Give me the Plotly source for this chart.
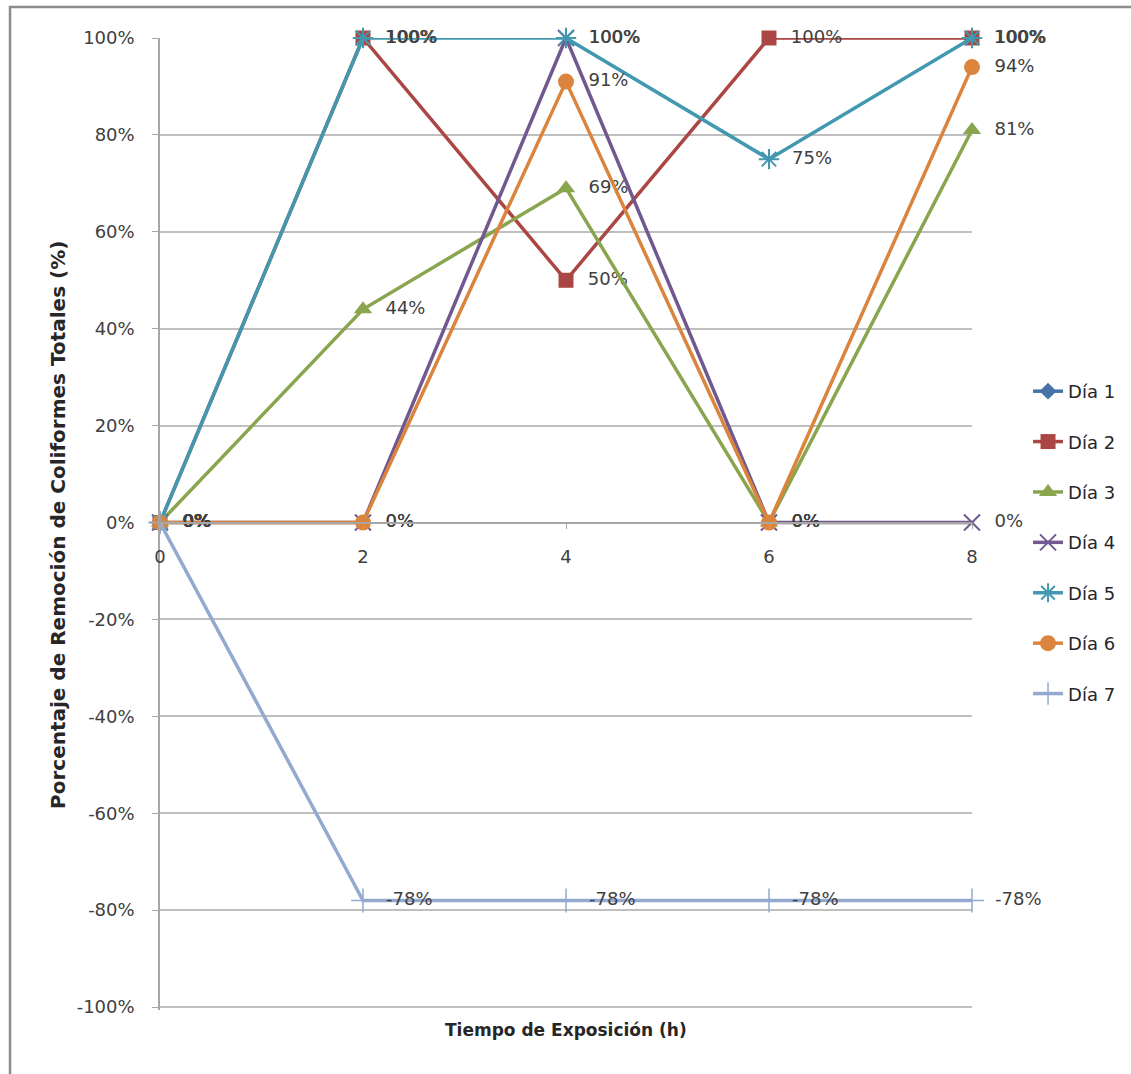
import plotly.graph_objects as go

# Exposure time (hours) on the category axis
tiempo = [0, 2, 4, 6, 8]

# Removal percentage of total coliforms per day (%)
dia_1 = [None, None, None, None, None]
dia_2 = [0, 100, 50, 100, 100]
dia_3 = [0, 44, 69, 0, 81]
dia_4 = [0, 0, 100, 0, 0]
dia_5 = [0, 100, 100, 75, 100]
dia_6 = [0, 0, 91, 0, 94]
dia_7 = [0, -78, -78, -78, -78]

y_ticks = [-100, -80, -60, -40, -20, 0, 20, 40, 60, 80, 100]
y_tick_labels = ["-100%", "-80%", "-60%", "-40%", "-20%", "0%",
                 "20%", "40%", "60%", "80%", "100%"]

series = [
    ("Día 1", dia_1, "#4572A7", dict(symbol="diamond", size=13)),
    ("Día 2", dia_2, "#AA4643", dict(symbol="square", size=15)),
    ("Día 3", dia_3, "#89A54E", dict(symbol="triangle-up", size=16)),
    ("Día 4", dia_4, "#71588F", dict(symbol="x-thin-open", size=16, line=dict(width=2, color="#71588F"))),
    ("Día 5", dia_5, "#4198AF", dict(symbol="asterisk-open", size=17, line=dict(width=2, color="#4198AF"))),
    ("Día 6", dia_6, "#DB843D", dict(symbol="circle", size=16)),
    ("Día 7", dia_7, "#93A9CF", dict(symbol="cross-thin-open", size=17, line=dict(width=1.5, color="#93A9CF"))),
]

FONT = "DejaVu Sans"
PAD = "\u00a0\u00a0"  # gap between a marker and its value label

# a little room below -100% so its gridline is kept
Y_MIN, Y_MAX = -100.6, 100

fig = go.Figure()
for name, vals, color, marker in series:
    labels = [None if v is None else f"{PAD}{v}%" for v in vals]
    fig.add_trace(go.Scatter(
        x=tiempo, y=vals, name=name, legendgroup=name,
        mode="lines+markers+text",
        line=dict(color=color, width=3.5),
        marker=dict(color=color, **marker),
        text=labels, textposition="middle right",
        textfont=dict(family=FONT, size=18, color="#404040"),
        cliponaxis=False,
    ))

fig.update_layout(
    width=1131, height=1074,
    margin=dict(l=160, r=159, t=38, b=64, autoexpand=False),
    paper_bgcolor="white", plot_bgcolor="white",
    font=dict(family=FONT, size=18, color="#404040"),
    showlegend=True,
    legend=dict(
        x=1.069, y=0.481, xanchor="left", yanchor="middle",
        font=dict(family=FONT, size=18, color="#262626"),
        itemwidth=30, tracegroupgap=24, bgcolor="rgba(0,0,0,0)",
    ),
    xaxis=dict(
        range=[0, 8], tickvals=tiempo, showgrid=False, zeroline=False,
        anchor="free", position=-Y_MIN / (Y_MAX - Y_MIN),
        showline=True, linecolor="#a6a6a6", linewidth=1.5,
        ticks="outside", ticklen=6, tickcolor="#a6a6a6",
        ticklabelstandoff=12,
        tickfont=dict(family=FONT, size=18, color="#404040"),
    ),
    yaxis=dict(
        range=[Y_MIN, Y_MAX], tickvals=y_ticks, ticktext=y_tick_labels,
        showgrid=True, gridcolor="#bfbfbf", gridwidth=1.5, zeroline=False,
        showline=True, linecolor="#a6a6a6", linewidth=1.5,
        ticks="outside", ticklen=6, tickcolor="#a6a6a6",
        ticklabelstandoff=14,
        tickfont=dict(family=FONT, size=18, color="#404040"),
    ),
    annotations=[
        dict(text="<b>Tiempo de Exposición (h)</b>", x=0.5, y=-0.0206,
             xref="paper", yref="paper", xanchor="center", yanchor="middle",
             showarrow=False, font=dict(family=FONT, size=17, color="#262626")),
        dict(text="<b>Porcentaje de Remoción de Coliformes Totales (%)</b>",
             x=-0.1256, y=0.499, xref="paper", yref="paper",
             xanchor="center", yanchor="middle", textangle=-90,
             showarrow=False, font=dict(family=FONT, size=20, color="#262626")),
    ],
    shapes=[
        dict(type="rect", xref="paper", yref="paper",
             x0=-0.1847, x1=1.3, y0=-0.2, y1=1.0319,
             line=dict(color="#8c8c8c", width=2.5), layer="below"),
    ],
)

fig.write_html("out.html")
